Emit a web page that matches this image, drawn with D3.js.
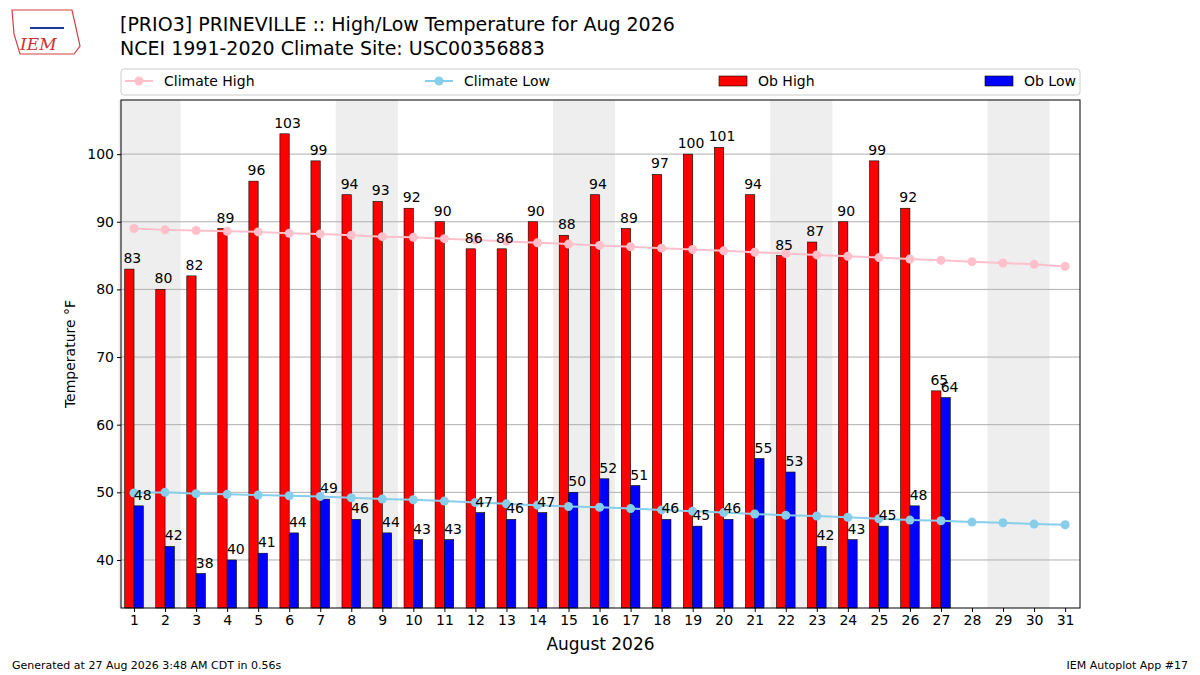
<!DOCTYPE html>
<html><head><meta charset="utf-8">
<script src="https://cdn.jsdelivr.net/npm/d3@7"></script>
<style>body{margin:0;background:#fff;font-family:"DejaVu Sans",sans-serif}</style>
</head><body>
<script>
var days = d3.range(1, 32);
var obHigh = [83,80,82,89,96,103,99,94,93,92,90,86,86,90,88,94,89,97,100,101,94,85,87,90,99,92,65];
var obLow = [48,42,38,40,41,44,49,46,44,43,43,47,46,47,50,52,51,46,45,46,55,53,42,43,45,48,64];
var climHigh = [89.0,88.8,88.7,88.6,88.5,88.3,88.2,88.0,87.8,87.7,87.5,87.3,87.1,86.9,86.7,86.5,86.3,86.1,85.9,85.7,85.5,85.3,85.1,84.9,84.7,84.5,84.3,84.1,83.9,83.7,83.4];
var climLow = [49.9,50.0,49.8,49.7,49.6,49.5,49.4,49.2,49.0,48.9,48.7,48.5,48.3,48.1,47.9,47.8,47.6,47.4,47.2,47.0,46.8,46.6,46.5,46.3,46.1,45.9,45.8,45.6,45.5,45.3,45.2];
var weekends = [1, 8, 15, 22, 29];
var yTicks = [40, 50, 60, 70, 80, 90, 100];

var L = 121, R = 1080, T = 100, B = 608;
var svg = d3.select("body").append("svg").attr("width", 1200).attr("height", 675);

var x = d3.scaleLinear().domain([0.58, 31.48]).range([L, R]);
var y = d3.scaleLinear().domain([32.9, 108]).range([B, T]);

// weekend shading
svg.selectAll(".wk").data(weekends).enter().append("rect")
  .attr("x", function(d) { return x(d - 0.5); })
  .attr("width", x(2) - x(0))
  .attr("y", T).attr("height", B - T)
  .attr("fill", "#eeeeee");

// grid
svg.selectAll(".grid").data(yTicks).enter().append("line")
  .attr("x1", L).attr("x2", R)
  .attr("y1", function(d) { return y(d); }).attr("y2", function(d) { return y(d); })
  .attr("stroke", "#b0b0b0").attr("stroke-width", 1);

var bw = x(1.3) - x(1);
svg.selectAll(".hi").data(obHigh).enter().append("rect")
  .attr("x", function(d, i) { return x(i + 1) - bw; })
  .attr("width", bw)
  .attr("y", function(d) { return y(d); })
  .attr("height", function(d) { return B - y(d); })
  .attr("fill", "red").attr("stroke", "black").attr("stroke-width", 0.6);
svg.selectAll(".lo").data(obLow).enter().append("rect")
  .attr("x", function(d, i) { return x(i + 1); })
  .attr("width", bw)
  .attr("y", function(d) { return y(d); })
  .attr("height", function(d) { return B - y(d); })
  .attr("fill", "blue").attr("stroke", "black").attr("stroke-width", 0.6);

function series(vals, col) {
  var line = d3.line().x(function(d, i) { return x(i + 1); }).y(function(d) { return y(d); });
  svg.append("path").datum(vals).attr("d", line).attr("fill", "none")
    .attr("stroke", col).attr("stroke-width", 2);
  svg.selectAll(null).data(vals).enter().append("circle")
    .attr("cx", function(d, i) { return x(i + 1); })
    .attr("cy", function(d) { return y(d); })
    .attr("r", 4.5).attr("fill", col);
}
series(climHigh, "pink");
series(climLow, "skyblue");

svg.selectAll(".hl").data(obHigh).enter().append("text")
  .attr("x", function(d, i) { return x(i + 1) - bw / 2 + 3; })
  .attr("y", function(d) { return y(d) - 6; })
  .attr("text-anchor", "middle").attr("font-size", 14).text(function(d) { return d; });
svg.selectAll(".ll").data(obLow).enter().append("text")
  .attr("x", function(d, i) { return x(i + 1) + bw / 2 + 4; })
  .attr("y", function(d) { return y(d) - 6; })
  .attr("text-anchor", "middle").attr("font-size", 14).text(function(d) { return d; });

// frame
svg.append("rect").attr("x", L).attr("y", T).attr("width", R - L).attr("height", B - T)
  .attr("fill", "none").attr("stroke", "black");

var fmt = function(d) { return d; };
svg.append("g").attr("transform", "translate(0," + B + ")")
  .call(d3.axisBottom(x).tickValues(days).tickFormat(fmt).tickSize(4))
  .call(function(g) { g.select(".domain").remove(); g.selectAll("text").attr("font-size", 14).attr("font-family", "DejaVu Sans"); });
svg.append("g").attr("transform", "translate(" + L + ",0)")
  .call(d3.axisLeft(y).tickValues(yTicks).tickSize(4))
  .call(function(g) { g.select(".domain").remove(); g.selectAll("text").attr("font-size", 14).attr("font-family", "DejaVu Sans"); });

svg.append("text").attr("x", (L + R) / 2).attr("y", 650).attr("text-anchor", "middle")
  .attr("font-size", 17).text("August 2026");
svg.append("text").attr("transform", "translate(75," + ((T + B) / 2) + ") rotate(-90)")
  .attr("text-anchor", "middle").attr("font-size", 14).text("Temperature °F");

svg.append("text").attr("x", 120).attr("y", 31).attr("font-size", 19)
  .text("[PRIO3] PRINEVILLE :: High/Low Temperature for Aug 2026");
svg.append("text").attr("x", 120).attr("y", 55).attr("font-size", 19)
  .text("NCEI 1991-2020 Climate Site: USC00356883");

// legend
var lg = svg.append("g");
lg.append("rect").attr("x", 121).attr("y", 69).attr("width", 959).attr("height", 26).attr("rx", 3)
  .attr("fill", "white").attr("stroke", "#cccccc");
lg.append("line").attr("x1", 125).attr("x2", 153).attr("y1", 81).attr("y2", 81).attr("stroke", "pink").attr("stroke-width", 2);
lg.append("circle").attr("cx", 139).attr("cy", 81).attr("r", 4.5).attr("fill", "pink");
lg.append("text").attr("x", 164).attr("y", 86).attr("font-size", 14).text("Climate High");
lg.append("line").attr("x1", 425).attr("x2", 453).attr("y1", 81).attr("y2", 81).attr("stroke", "skyblue").attr("stroke-width", 2);
lg.append("circle").attr("cx", 439).attr("cy", 81).attr("r", 4.5).attr("fill", "skyblue");
lg.append("text").attr("x", 464).attr("y", 86).attr("font-size", 14).text("Climate Low");
lg.append("rect").attr("x", 719).attr("y", 76).attr("width", 28).attr("height", 10).attr("fill", "red").attr("stroke", "black").attr("stroke-width", 0.6);
lg.append("text").attr("x", 758).attr("y", 86).attr("font-size", 14).text("Ob High");
lg.append("rect").attr("x", 985).attr("y", 76).attr("width", 28).attr("height", 10).attr("fill", "blue").attr("stroke", "black").attr("stroke-width", 0.6);
lg.append("text").attr("x", 1024).attr("y", 86).attr("font-size", 14).text("Ob Low");

svg.append("text").attr("x", 12).attr("y", 669).attr("font-size", 11)
  .text("Generated at 27 Aug 2026 3:48 AM CDT in 0.56s");
svg.append("text").attr("x", 1188).attr("y", 669).attr("font-size", 11).attr("text-anchor", "end")
  .text("IEM Autoplot App #17");

// logo
var lgo = svg.append("g");
lgo.append("path").attr("d", "M12,10 L72,10 L76,28 L80,46 L74,54 L20,54 L14,34 Z")
  .attr("fill", "white").attr("stroke", "#d04040").attr("stroke-width", 1.2);
lgo.append("text").attr("x", 20).attr("y", 50).attr("font-size", 17).attr("font-style", "italic")
  .attr("font-family", "DejaVu Serif").attr("fill", "#d03030").text("IEM");
lgo.append("line").attr("x1", 30).attr("x2", 64).attr("y1", 28).attr("y2", 28).attr("stroke", "#1a3aa0").attr("stroke-width", 2);
</script>
</body></html>
